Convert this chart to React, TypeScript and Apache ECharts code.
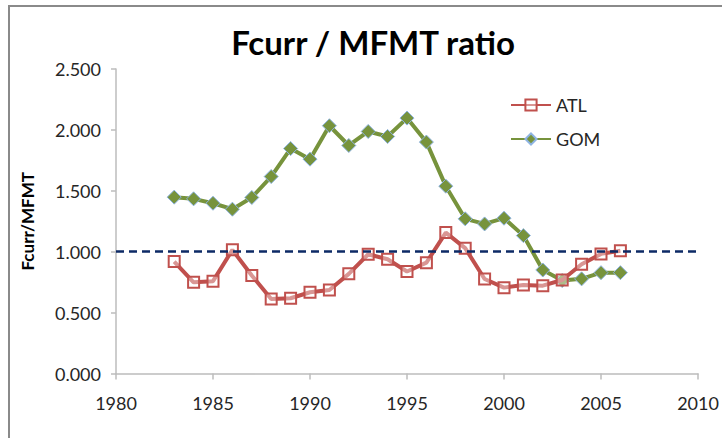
import React, { useEffect, useRef } from "react";
import * as echarts from "echarts";

const years = [1983, 1984, 1985, 1986, 1987, 1988, 1989, 1990, 1991, 1992, 1993, 1994, 1995, 1996, 1997, 1998, 1999, 2000, 2001, 2002, 2003, 2004, 2005, 2006];
const atl = [0.919, 0.749, 0.758, 1.015, 0.804, 0.612, 0.618, 0.667, 0.686, 0.818, 0.979, 0.938, 0.837, 0.91, 1.157, 1.029, 0.776, 0.705, 0.727, 0.721, 0.768, 0.897, 0.982, 1.007];
const gom = [1.448, 1.434, 1.398, 1.349, 1.445, 1.617, 1.847, 1.76, 2.034, 1.872, 1.987, 1.946, 2.097, 1.9, 1.538, 1.27, 1.228, 1.275, 1.132, 0.85, 0.763, 0.777, 0.828, 0.828];
const refLine = 1.0;

const FONT = "Lato";

export default function App() {
  const ref = useRef<HTMLDivElement>(null);
  useEffect(() => {
    if (!ref.current) return;
    const chart = echarts.init(ref.current, null, { renderer: "svg" });
    chart.setOption({
      animation: false,
      backgroundColor: "#ffffff",
      textStyle: { fontFamily: FONT },
      title: {
        text: "Fcurr / MFMT ratio",
        left: 368,
        textAlign: "center",
        top: 20,
        textStyle: { fontFamily: FONT, fontWeight: "bold", fontSize: 33, color: "#000" },
      },
      graphic: [
        {
          type: "rect",
          shape: { x: 9, y: 6, width: 740, height: 460 },
          style: { fill: "none", stroke: "#8a8a8a", lineWidth: 2 },
          silent: true,
        },
      ],
      legend: {
        left: 505,
        top: 91,
        orient: "vertical",
        itemWidth: 40,
        itemHeight: 14,
        itemGap: 16,
        textStyle: { fontFamily: FONT, fontSize: 18, lineHeight: 18, color: "#262626", padding: [0, 0, 0, 0] },
        data: ["ATL", "GOM"],
      },
      grid: { left: 116, right: 24, top: 69, bottom: 64.5, containLabel: false },
      xAxis: {
        type: "value",
        min: 1980,
        max: 2010,
        interval: 5,
        axisLine: { show: true, lineStyle: { color: "#bcbcbc", width: 1.5 } },
        axisTick: { show: true, length: 6, lineStyle: { color: "#bcbcbc", width: 1.5 } },
        splitLine: { show: false },
        axisLabel: {
          margin: 20,
          fontFamily: FONT,
          fontSize: 18,
          color: "#262626",
          formatter: (v: number) => String(v),
        },
      },
      yAxis: {
        type: "value",
        min: 0,
        max: 2.5,
        interval: 0.5,
        name: "Fcurr/MFMT",
        nameLocation: "middle",
        nameGap: 80,
        nameRotate: 90,
        nameTextStyle: { fontFamily: FONT, fontWeight: "bold", fontSize: 17, color: "#000" },
        axisLine: { show: true, lineStyle: { color: "#bcbcbc", width: 1.5 } },
        axisTick: { show: true, length: 5, lineStyle: { color: "#bcbcbc", width: 1.5 } },
        splitLine: { show: false },
        axisLabel: {
          margin: 15,
          fontFamily: FONT,
          fontSize: 18,
          color: "#262626",
          formatter: (v: number) => v.toFixed(3),
        },
      },
      series: [
        {
          name: "ATL",
          type: "line",
          data: years.map((y, i) => [y, atl[i]]),
          symbol: "rect",
          symbolSize: 11,
          lineStyle: { color: "#c0504d", width: 4 },
          itemStyle: { color: "rgba(255,255,255,0.4)", borderColor: "#c0504d", borderWidth: 2 },
          z: 3,
          markLine: {
            silent: true,
            symbol: "none",
            label: { show: false },
            lineStyle: { color: "#0d2a66", width: 2.5, type: [8, 5] },
            data: [{ yAxis: refLine }],
            z: 5,
          },
        },
        {
          name: "GOM",
          type: "line",
          data: years.map((y, i) => [y, gom[i]]),
          symbol: "diamond",
          symbolSize: 14,
          lineStyle: { color: "#77933c", width: 4 },
          itemStyle: { color: "#77933c", borderColor: "#8db3e2", borderWidth: 1 },
          z: 2,
        },
      ],
    });
    return () => chart.dispose();
  }, []);
  return (
    <div
      ref={ref}
      style={{ position: "fixed", left: 0, top: 0, width: 722, height: 438 }}
    />
  );
}
